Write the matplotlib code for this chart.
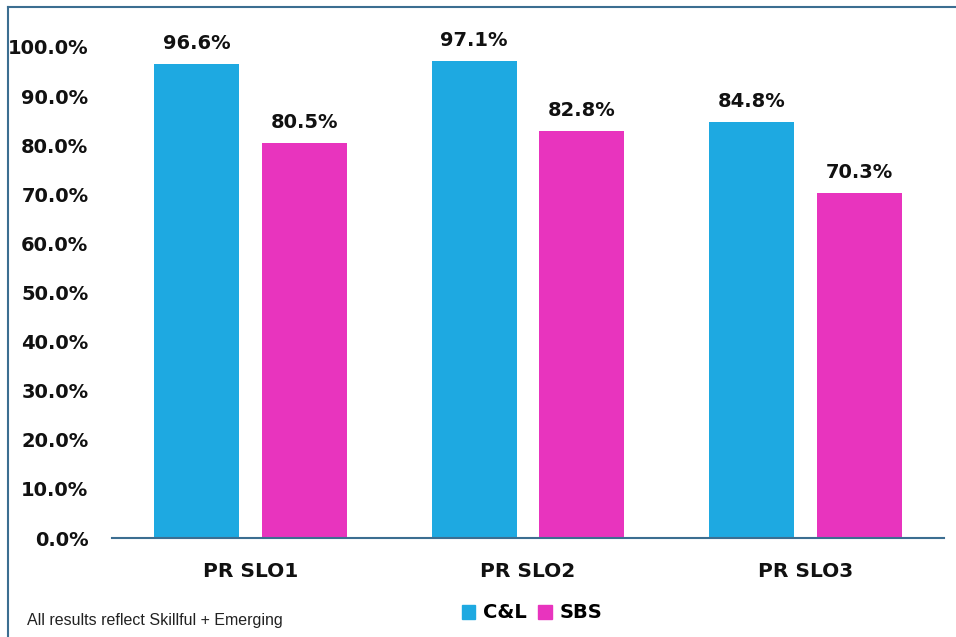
import matplotlib
matplotlib.use("Agg")
import matplotlib.pyplot as plt
from matplotlib.lines import Line2D
from matplotlib.patches import Patch
import numpy as np

categories = ["PR SLO1", "PR SLO2", "PR SLO3"]
series_names = ["C&L", "SBS"]
cl_values = [96.6, 97.1, 84.8]
sbs_values = [80.5, 82.8, 70.3]
y_ticks = [0, 10, 20, 30, 40, 50, 60, 70, 80, 90, 100]
footnote = "All results reflect Skillful + Emerging"

CYAN = "#1EA9E1"
MAGENTA = "#E834BE"
FRAME = "#3C6E91"
TEXT = "#111111"
FS = 14

plt.rcParams["font.family"] = ["DejaVu Sans"]

fig = plt.figure(figsize=(9.56, 6.37), dpi=100)
ax = fig.add_axes([112 / 956, 1 - 538 / 637, (944 - 112) / 956, (538 - 47) / 637])

x = np.arange(len(categories))
width = 0.3065
offset = 0.1947
b1 = ax.bar(x - offset, cl_values, width, color=CYAN, label=series_names[0])
b2 = ax.bar(x + offset, sbs_values, width, color=MAGENTA, label=series_names[1])

for bars, vals in ((b1, cl_values), (b2, sbs_values)):
    for rect, v in zip(bars, vals):
        ax.annotate(f"{v:.1f}%", (rect.get_x() + rect.get_width() / 2, v),
                    xytext=(0, 8), textcoords="offset points",
                    ha="center", va="bottom", fontsize=FS, fontweight="bold",
                    color=TEXT)

ax.set_xlim(-0.5, 2.5)
ax.set_ylim(0, 100)
ax.set_yticks(y_ticks)
ax.set_yticklabels([f"{t:.1f}%" for t in y_ticks])
ax.set_xticks(x)
ax.set_xticklabels(categories)
ax.tick_params(axis="y", length=0, pad=17, labelsize=FS, labelcolor=TEXT)
ax.tick_params(axis="x", length=0, pad=17, labelsize=FS + 0.5, labelcolor=TEXT)
for lab in ax.get_yticklabels() + ax.get_xticklabels():
    lab.set_fontweight("bold")

for s in ("top", "right", "left"):
    ax.spines[s].set_visible(False)
ax.spines["bottom"].set_color(FRAME)
ax.spines["bottom"].set_linewidth(1.5)

# outer frame lines (top and left edges)
fig.add_artist(Line2D([8 / 956, 1.0], [1 - 7 / 637, 1 - 7 / 637],
                      transform=fig.transFigure, color=FRAME, lw=1.5))
fig.add_artist(Line2D([8 / 956, 8 / 956], [0, 1 - 7 / 637],
                      transform=fig.transFigure, color=FRAME, lw=1.5))

handles = [Patch(color=CYAN, label=series_names[0]),
           Patch(color=MAGENTA, label=series_names[1])]
fig.legend(handles=handles, loc="center", bbox_to_anchor=(532 / 956, 1 - 613 / 637),
           ncol=2, frameon=False, handlelength=0.7, handleheight=0.7,
           handletextpad=0.4, columnspacing=0.6,
           prop={"weight": "bold", "size": FS})

fig.text(27 / 956, 1 - 621 / 637, footnote, fontsize=11.5, color="#222222",
         ha="left", va="center", family=["Liberation Sans", "DejaVu Sans"])

fig.savefig("out.png", dpi=100)
